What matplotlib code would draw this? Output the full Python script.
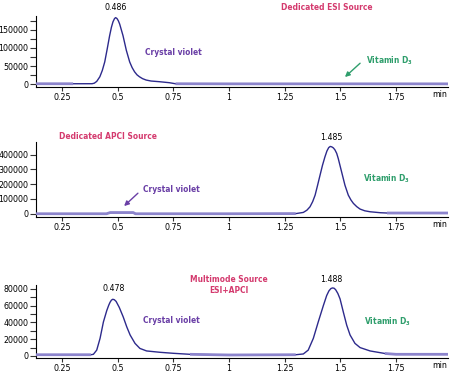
import matplotlib
matplotlib.use("Agg")
import matplotlib.pyplot as plt
import numpy as np
from matplotlib import font_manager
from matplotlib.ticker import MultipleLocator

entries = font_manager.fontManager.ttflist
names = {f.name for f in entries}
if 'Liberation Sans Narrow' in names:
    FONT, STRETCH, FS, AFS = 'Liberation Sans Narrow', 'normal', 7, 7
elif any(f.name == 'DejaVu Sans' and 'Condensed' in f.fname for f in entries):
    FONT, STRETCH, FS, AFS = 'DejaVu Sans', 'condensed', 6.3, 6
else:
    FONT, STRETCH, FS, AFS = 'Liberation Sans', 'normal', 6.3, 6
plt.rcParams['font.family'] = [FONT, 'DejaVu Sans']
plt.rcParams['font.stretch'] = STRETCH
plt.rcParams['mathtext.fontset'] = 'custom'
plt.rcParams['mathtext.rm'] = FONT + ':bold'
plt.rcParams['mathtext.it'] = FONT + ':bold'
plt.rcParams['mathtext.bf'] = FONT + ':bold'

# ---------------- data ----------------
x_ticks = [0.25, 0.5, 0.75, 1, 1.25, 1.5, 1.75]
x_tick_labels = ['0.25', '0.5', '0.75', '1', '1.25', '1.5', '1.75']

esi_t = [0.13, 0.30, 0.385, 0.395, 0.406, 0.420, 0.431, 0.442, 0.453, 0.464, 0.472,
         0.479, 0.486, 0.491, 0.497, 0.503, 0.509, 0.524, 0.539, 0.554, 0.565, 0.576,
         0.587, 0.598, 0.612, 0.628, 0.650, 0.688, 0.732, 0.76, 1.0, 1.5, 1.984]
esi_y = [1500, 1500, 1600, 3000, 8000, 20700, 38000, 61600, 97000, 134000, 157000,
         172000, 181000, 183500, 181000, 175000, 166000, 134000, 93500, 61600, 46000, 34400,
         26000, 20700, 15500, 11700, 9000, 7100, 4400, 1500, 1200, 1200, 1200]

apci_t = [0.13, 0.45, 0.466, 0.57, 0.58, 1.0, 1.30, 1.334, 1.350, 1.364, 1.376, 1.387,
          1.398, 1.409, 1.420, 1.431, 1.440, 1.448, 1.455, 1.462, 1.469, 1.476, 1.484,
          1.491, 1.506, 1.521, 1.536, 1.548, 1.559, 1.574, 1.589, 1.610, 1.634, 1.68,
          1.71, 1.984]
apci_y = [0, 0, 8000, 8000, 0, 0, 1000, 9000, 24000, 47000, 82000, 126000,
          192000, 260000, 327000, 384000, 424000, 447000, 455000, 452000, 445000, 432000, 408000,
          373000, 283000, 193000, 126000, 93000, 70000, 48000, 31600, 20000, 13500, 7000,
          5000, 5000]

multi_t = [0.13, 0.38, 0.391, 0.406, 0.421, 0.436, 0.451, 0.460, 0.466, 0.472, 0.478,
           0.485, 0.493, 0.507, 0.525, 0.541, 0.556, 0.578, 0.600, 0.630, 0.690, 0.750,
           0.825, 1.0, 1.30, 1.334, 1.356, 1.379, 1.401, 1.424, 1.439, 1.449, 1.458,
           1.465, 1.472, 1.479, 1.489, 1.499, 1.514, 1.529, 1.544, 1.566, 1.589, 1.634,
           1.70, 1.75, 1.984]
multi_y = [1500, 1500, 2000, 7000, 21000, 40500, 54000, 60500, 64000, 66500, 67500,
           67000, 65000, 58000, 46500, 34600, 25000, 15000, 9000, 6000, 4400, 3200,
           2000, 1200, 1500, 2400, 7000, 21000, 40500, 60000, 72000, 77500, 80300,
           81000, 80700, 79000, 74500, 68000, 52000, 36600, 25000, 15000, 10000, 6000,
           3000, 2000, 2000]

peak_windows = [[(0.38, 0.74)], [(1.33, 1.70)], [(0.385, 0.80), (1.33, 1.70)]]

NAVY = '#2d2a8c'
LAV = '#8c84cc'
CRIMSON = '#d43a6e'
PURPLE = '#6a3fa6'
GREEN = '#2f9e6c'

fig = plt.figure(figsize=(4.5, 3.73), dpi=100)
rects = [[0.0789, 0.7668, 0.9167, 0.1903],
         [0.0789, 0.4182, 0.9167, 0.2011],
         [0.0789, 0.0402, 0.9167, 0.1957]]
ylims = [(-7400, 188000), (-22000, 485000), (-2400, 84500)]
major = [50000, 100000, 20000]
minor = [25000, None, 10000]
traces = [(esi_t, esi_y), (apci_t, apci_y), (multi_t, multi_y)]

axes = []
for i, r in enumerate(rects):
    ax = fig.add_axes(r)
    t, y = np.array(traces[i][0]), np.array(traces[i][1])
    ax.plot(t, y, color=NAVY, lw=1.0, zorder=3, solid_joinstyle='round')
    mask = np.ones_like(t, dtype=bool)
    for a, b in peak_windows[i]:
        mask &= ~((t > a) & (t < b))
    ym = np.where(mask, y, np.nan)
    ax.plot(t, ym, color=LAV, lw=2.0, zorder=4, solid_capstyle='butt')
    ax.set_xlim(0.131, 1.984)
    ax.set_ylim(*ylims[i])
    ax.spines['top'].set_visible(False)
    ax.spines['right'].set_visible(False)
    ax.spines['left'].set_linewidth(0.8)
    ax.spines['bottom'].set_linewidth(0.8)
    ax.set_xticks(x_ticks)
    ax.set_xticklabels(x_tick_labels)
    ax.yaxis.set_major_locator(MultipleLocator(major[i]))
    if minor[i]:
        ax.yaxis.set_minor_locator(MultipleLocator(minor[i]))
    ax.tick_params(axis='both', which='both', labelsize=FS, color='#333333',
                   width=0.8, direction='out')
    ax.tick_params(axis='y', which='major', length=4, pad=1.0)
    ax.tick_params(axis='y', which='minor', length=4)
    ax.tick_params(axis='x', length=3, pad=1.5)
    ax.annotate('min', xy=(1.948, 0), xycoords=('data', 'axes fraction'),
                xytext=(0, -5.5), textcoords='offset points', ha='center', va='center',
                fontsize=FS)
    axes.append(ax)

ax1, ax2, ax3 = axes
kw = dict(fontsize=AFS, fontweight='bold', ha='center', va='center', clip_on=False)
nk = dict(fontsize=FS, ha='center', va='center', clip_on=False)
# panel 1
ax1.text(0.49, 211000, '0.486', **nk)
ax1.text(1.441, 211000, 'Dedicated ESI Source', color=CRIMSON, **kw)
ax1.text(0.749, 88000, 'Crystal violet', color=PURPLE, **kw)
ax1.text(1.719, 66000, 'Vitamin D$_3$', color=GREEN, **kw)
ax1.annotate('', xy=(1.521, 20000), xytext=(1.589, 58000),
             arrowprops=dict(arrowstyle='-|>', color=GREEN, lw=1.0,
                             mutation_scale=7, shrinkA=0, shrinkB=0))
# panel 2
ax2.text(0.457, 525000, 'Dedicated APCI Source', color=CRIMSON, **kw)
ax2.text(1.462, 514000, '1.485', **nk)
ax2.text(0.740, 166000, 'Crystal violet', color=PURPLE, **kw)
ax2.text(1.710, 234000, 'Vitamin D$_3$', color=GREEN, **kw)
ax2.annotate('', xy=(0.529, 52000), xytext=(0.591, 139000),
             arrowprops=dict(arrowstyle='-|>', color=PURPLE, lw=1.0,
                             mutation_scale=7, shrinkA=0, shrinkB=0))
# panel 3
ax3.text(0.999, 84500, 'Multimode Source\nESI+APCI', color=CRIMSON,
         linespacing=1.15, **kw)
ax3.text(0.480, 80400, '0.478', **nk)
ax3.text(1.458, 91000, '1.488', **nk)
ax3.text(0.740, 42500, 'Crystal violet', color=PURPLE, **kw)
ax3.text(1.712, 40500, 'Vitamin D$_3$', color=GREEN, **kw)

fig.savefig('out.png', dpi=100)
